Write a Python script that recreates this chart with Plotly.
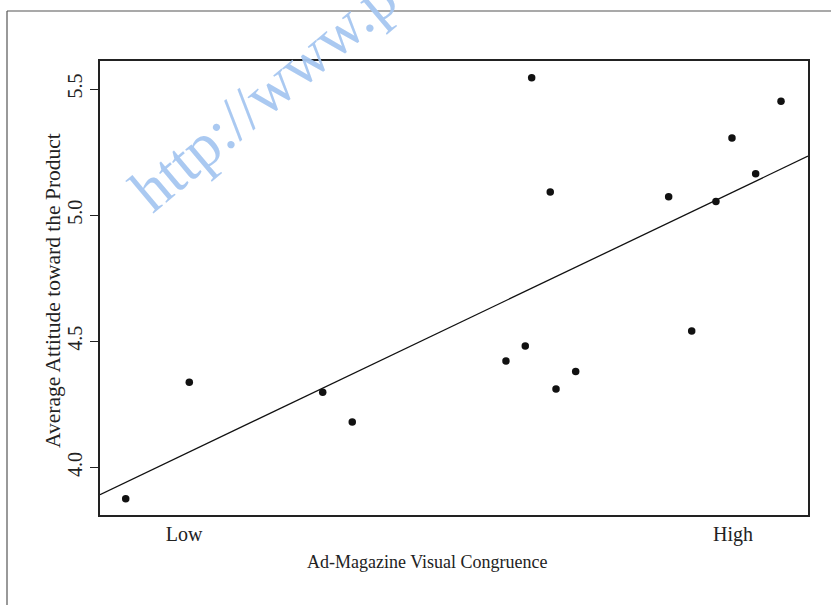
import plotly.graph_objects as go

# Data
congruence = [0.363, 1.058, 2.516, 2.839, 4.519, 4.730, 4.800, 5.003, 5.066,
              5.281, 6.297, 6.549, 6.814, 6.989, 7.248, 7.525]
attitude = [3.876, 4.338, 4.298, 4.180, 4.422, 4.481, 5.545, 5.092, 4.311,
            4.380, 5.073, 4.541, 5.054, 5.306, 5.164, 5.452]
fit_intercept = 3.8778
fit_slope = 0.17343
x_tick_vals = [1, 7]
x_tick_text = ["Low", "High"]
y_tick_vals = [4.0, 4.5, 5.0, 5.5]
y_tick_text = ["4.0", "4.5", "5.0", "5.5"]
x_range = [0.082, 7.820]
y_range = [3.8115, 5.6111]

FONT = "Liberation Serif, Times New Roman, serif"
W, H = 831, 605
L, R, T, B = 100, 23, 61, 90
PW, PH = W - L - R, H - T - B


def px(x):
    return (x - L) / PW


def py(y):
    return (H - B - y) / PH


fig = go.Figure()
fig.add_trace(go.Scatter(
    x=x_range,
    y=[fit_intercept + fit_slope * v for v in x_range],
    mode="lines", line=dict(color="#111", width=1.3),
    hoverinfo="skip", showlegend=False, cliponaxis=True))
fig.add_trace(go.Scatter(
    x=congruence, y=attitude, mode="markers",
    marker=dict(color="#111", size=7.5, line=dict(width=0)),
    showlegend=False))

fig.update_layout(
    width=W, height=H,
    margin=dict(l=L, r=R, t=T, b=B, pad=0),
    paper_bgcolor="white", plot_bgcolor="white",
    font=dict(family=FONT, size=18, color="#222"),
    xaxis=dict(range=x_range, showgrid=False, zeroline=False,
               showline=True, mirror=True, linecolor="#222", linewidth=1.5,
               tickmode="array", tickvals=x_tick_vals, ticktext=x_tick_text,
               ticks="", 
               tickfont=dict(family=FONT, size=20, color="#222")),
    yaxis=dict(range=y_range, showgrid=False, zeroline=False,
               showline=True, mirror=True, linecolor="#222", linewidth=1.5,
               tickmode="array", tickvals=y_tick_vals, ticktext=y_tick_text,
               ticks="outside", ticklen=8, tickwidth=1.3, tickcolor="#222",
               tickangle=-90,
               tickfont=dict(family=FONT, size=20, color="#222")),
)

# outer frame lines
fig.add_shape(type="line", xref="paper", yref="paper",
              x0=px(7), x1=px(7), y0=py(11), y1=py(H + 5),
              line=dict(color="#555", width=1.2))
fig.add_shape(type="line", xref="paper", yref="paper",
              x0=px(7), x1=px(W + 5), y0=py(11), y1=py(11),
              line=dict(color="#555", width=1.2))

# axis titles
fig.add_annotation(text="Ad-Magazine Visual Congruence", xref="paper", yref="paper",
                   x=px(427), y=py(562), showarrow=False,
                   xanchor="center", yanchor="middle",
                   font=dict(family=FONT, size=18, color="#222"))
fig.add_annotation(text="Average Attitude toward the Product", xref="paper", yref="paper",
                   x=px(53), y=py(291), showarrow=False, textangle=-90,
                   xanchor="center", yanchor="middle",
                   font=dict(family=FONT, size=21.5, color="#222"))

# watermark
fig.add_annotation(text="http://www.p", xref="paper", yref="paper",
                   x=px(263), y=py(94), showarrow=False, textangle=-40,
                   xanchor="center", yanchor="middle",
                   font=dict(family=FONT, size=62, color="rgba(165,198,240,0.95)"))

fig.write_html("out.html", config={"displayModeBar": False},
               post_script="document.body.style.margin='0';")
